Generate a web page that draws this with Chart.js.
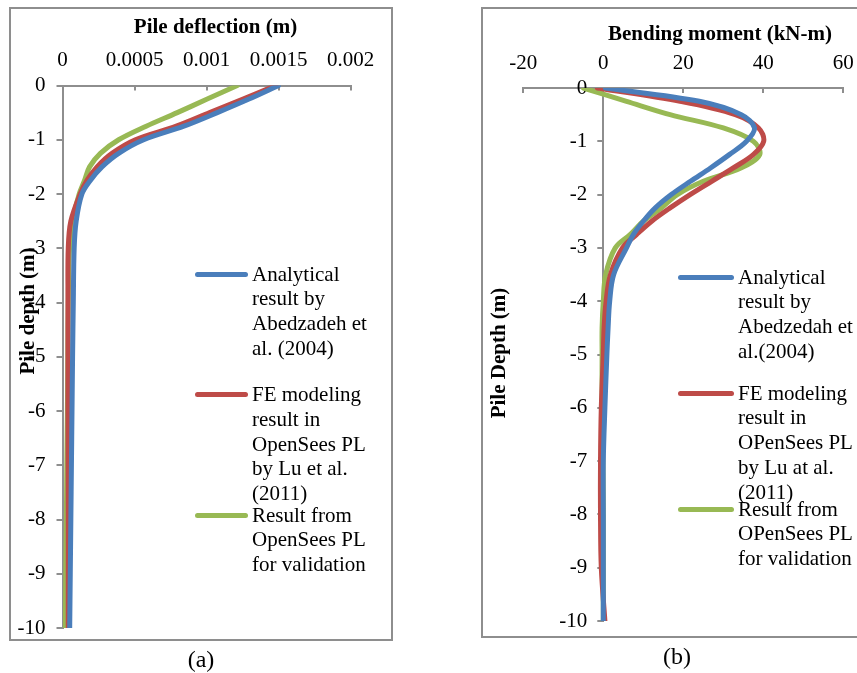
<!DOCTYPE html>
<html>
<head>
<meta charset="utf-8">
<title>Pile deflection and bending moment</title>
<script src="https://cdn.jsdelivr.net/npm/chart.js@4.4.1/dist/chart.umd.min.js"></script>
<style>
    html, body { margin: 0; padding: 0; background: #fff; overflow: hidden; }
    body { position: relative; width: 857px; height: 673px; font-family: "Liberation Serif", "Times New Roman", serif; color: #000; }
    .frame   { position: absolute; border: 2px solid #8e8e8e; box-sizing: border-box; }
    canvas   { position: absolute; top: 0; }
    .legend  { position: absolute; }
    .lg-item { position: absolute; left: 0; }
    .lg-line { position: absolute; left: 0; top: 10px; height: 5px; border-radius: 3px; }
    .lg-text { position: absolute; top: 0; width: 125px; font-size: 21px; line-height: 24.8px; }
    .caption { position: absolute; font-size: 24px; transform: translate(-50%, -50%); }
</style>
</head>
<body>
<div class="frame" style="left:9px;top:7px;width:384px;height:634px"></div>
<div class="frame" style="left:481px;top:7px;width:430px;height:631px"></div>
<canvas id="chartA" width="430" height="673" style="left:0"></canvas>
<canvas id="chartB" width="445" height="673" style="left:430px"></canvas>
<div id="legendA" class="legend"></div>
<div id="legendB" class="legend"></div>
<div class="caption" style="left:201px;top:659px">(a)</div>
<div class="caption" style="left:677px;top:656px">(b)</div>

<script>
'use strict';

/* ── (a) pile deflection (m) vs depth (m) ── */
const depthA         = [0, -0.25, -0.5, -0.75, -1, -1.25, -1.5, -1.75, -2, -2.5, -3, -4, -5, -6, -7, -8, -9, -10];
const deflAnalytical = [0.0015, 0.001295, 0.001075, 0.000843, 0.000564, 0.00039, 0.000274, 0.000193, 0.000135, 0.000095, 0.000081, 0.000075, 0.00007, 0.000066, 0.000062, 0.000058, 0.000054, 0.00005];
const deflFE         = [0.001481, 0.001254, 0.001022, 0.00079, 0.000506, 0.000344, 0.00024, 0.00017, 0.000123, 0.000058, 0.00004, 0.000038, 0.000038, 0.000038, 0.000039, 0.00004, 0.00004, 0.00004];
const deflValidation = [0.001214, 0.001005, 0.000797, 0.000581, 0.00039, 0.000263, 0.000188, 0.000153, 0.000116, 0.00007, 0.000049, 0.00004, 0.000037, 0.000034, 0.00003, 0.000027, 0.000023, 0.00002];

/* ── (b) bending moment (kN-m) vs depth (m) ── */
const depthB         = [0, -0.25, -0.5, -0.75, -1, -1.25, -1.5, -1.75, -2, -2.25, -2.5, -2.75, -3, -3.5, -4, -4.5, -5, -6, -7, -8, -9, -10];
const bmAnalytical   = [0.5, 24, 34.5, 37.8, 35.8, 31.5, 26.8, 21.8, 17, 13, 10, 7.5, 5.8, 2.6, 1.6, 1.2, 0.9, 0.4, 0, 0, 0, 0];
const bmFE           = [-1.5, 19.2, 33, 38.8, 40.1, 37.5, 32.5, 27.1, 21.7, 16.7, 12.1, 8.3, 4.8, 1.8, 0.7, 0.2, 0, -0.5, -0.7, -0.7, -0.5, 0.4];
const bmValidation   = [-5, 5.8, 16.7, 30, 37.5, 39.1, 34.4, 25, 18.5, 14.5, 10, 6.7, 3, 0.6, 0, -0.3, -0.3, -0.3, -0.1, 0, 0, 0];

/* ── tick labels ── */
const deflTicks   = ['0', '0.0005', '0.001', '0.0015', '0.002'];
const momentTicks = ['-20', '0', '20', '40', '60'];
const depthTicks  = ['0', '-1', '-2', '-3', '-4', '-5', '-6', '-7', '-8', '-9', '-10'];

/* ── series names (as printed in each panel) ── */
const namesA = [
    'Analytical result by Abedzadeh et al. (2004)',
    'FE modeling result in OpenSees PL by Lu et al.(2011)',
    'Result from OpenSees PL for validation'
];
const namesB = [
    'Analytical result by Abedzedah et al.(2004)',
    'FE modeling result in OPenSees PL by Lu at al. (2011)',
    'Result from OPenSees PL for validation'
];

const seriesColors = ['#4a7ebb', '#be4b48', '#98b954'];
const axisGray     = '#8e8e8e';

Chart.defaults.font.family = '"Liberation Serif", "Times New Roman", serif';
Chart.defaults.font.size   = 21;
Chart.defaults.color       = '#000';

// axis titles are placed where Excel put them (not centred on the plot)
const freeText = {
    id: 'freeText',
    afterDraw(chart, args, opts) {
        const ctx = chart.ctx;
        (opts.items || []).forEach(t => {
            ctx.save();
            ctx.translate(t.x, t.y);
            if (t.rotate) ctx.rotate(t.rotate);
            ctx.font = 'bold 21px "Liberation Serif", "Times New Roman", serif';
            ctx.fillStyle = '#000';
            ctx.textAlign = 'center';
            ctx.textBaseline = 'middle';
            ctx.fillText(t.text, 0, 0);
            ctx.restore();
        });
    }
};

// vertical axis crossing the horizontal one at a value (Excel "axis crosses at 0")
const pinYAxis = {
    id: 'pinYAxis',
    afterLayout(chart, args, opts) {
        if (opts.at == null) return;
        const x0 = chart.scales.x.getPixelForValue(opts.at);
        chart.scales.y.left  = x0 - 80;
        chart.scales.y.right = x0;
        chart.scales.y.width = 80;
    }
};

function toPoints(xs, ys) { return xs.map((x, i) => ({ x, y: ys[i] })); }

function makeChart(id, cfg) {
    return new Chart(document.getElementById(id), {
        type: 'scatter',
        data: {
            datasets: cfg.series.map((s, i) => ({
                label: cfg.names[i],
                data: toPoints(s, cfg.depth),
                showLine: true,
                borderColor: seriesColors[i],
                backgroundColor: seriesColors[i],
                borderWidth: 5,
                pointRadius: 0,
                tension: 0.35,
                borderCapStyle: 'round',
                borderJoinStyle: 'round'
            }))
        },
        options: {
            responsive: false, animation: false, events: [],
            layout: { padding: cfg.padding },
            plugins: {
                legend: { display: false },
                tooltip: { enabled: false },
                freeText: { items: cfg.titles },
                pinYAxis: { at: cfg.yCross }
            },
            scales: {
                x: {
                    type: 'linear', position: 'top',
                    min: cfg.xMin, max: cfg.xMax,
                    ticks: { stepSize: cfg.xStep, padding: 17, maxRotation: 0, autoSkip: false,
                             callback: (v, i) => cfg.xTicks[i] },
                    grid:   { drawOnChartArea: false, tickLength: -5, color: axisGray, lineWidth: 2 },
                    border: { color: axisGray, width: 2 },
                    afterFit: s => { s.height = cfg.xAxisHeight; }
                },
                y: {
                    type: 'linear', position: 'left',
                    min: -10, max: 0,
                    ticks: { stepSize: 1, padding: cfg.yPad, autoSkip: false,
                             callback: (v, i, ticks) => depthTicks[ticks.length - 1 - i] },
                    grid:   { drawOnChartArea: false, tickLength: 6, color: axisGray, lineWidth: 2 },
                    border: { color: axisGray, width: 2 },
                    afterFit: s => { s.width = cfg.yAxisWidth; }
                }
            }
        },
        plugins: [freeText, pinYAxis]
    });
}

function buildLegend(chart, elId, box) {
    const el = document.getElementById(elId);
    el.style.left = box.left + 'px';
    el.style.top  = box.top + 'px';
    chart.data.datasets.forEach((ds, i) => {
        const item = document.createElement('div');
        item.className = 'lg-item';
        item.style.top = (i * box.step) + 'px';

        const line = document.createElement('span');
        line.className = 'lg-line';
        line.style.width = box.lineWidth + 'px';
        line.style.background = ds.borderColor;

        const text = document.createElement('span');
        text.className = 'lg-text';
        text.style.left = (box.lineWidth + 4) + 'px';
        text.textContent = ds.label;

        item.appendChild(line);
        item.appendChild(text);
        el.appendChild(item);
    });
}

const chartA = makeChart('chartA', {
    depth: depthA,
    series: [deflAnalytical, deflFE, deflValidation],
    names: namesA,
    xMin: 0, xMax: 0.002, xStep: 0.0005, xTicks: deflTicks,
    xAxisHeight: 85.5,
    yAxisWidth: 62.5, yPad: 11, yCross: null,
    padding: { left: 0, top: 0, right: 79.5, bottom: 45 },
    titles: [
        { text: 'Pile deflection (m)', x: 215.5, y: 28 },
        { text: 'Pile depth (m)', x: 28.5, y: 311, rotate: -Math.PI / 2 }
    ]
});

const chartB = makeChart('chartB', {
    depth: depthB,
    series: [bmAnalytical, bmFE, bmValidation],
    names: namesB,
    xMin: -20, xMax: 60, xStep: 20, xTicks: momentTicks,
    xAxisHeight: 88,
    yAxisWidth: 0, yPad: 10, yCross: 0,
    padding: { left: 93.3, top: 0, right: 31.7, bottom: 52 },
    titles: [
        { text: 'Bending moment (kN-m)', x: 290, y: 35 },
        { text: 'Pile Depth (m)', x: 70, y: 353, rotate: -Math.PI / 2 }
    ]
});

buildLegend(chartA, 'legendA', { left: 195, top: 261.5, step: 120.5, lineWidth: 53 });
buildLegend(chartB, 'legendB', { left: 678, top: 264.5, step: 116,   lineWidth: 56 });
</script>
</body>
</html>
